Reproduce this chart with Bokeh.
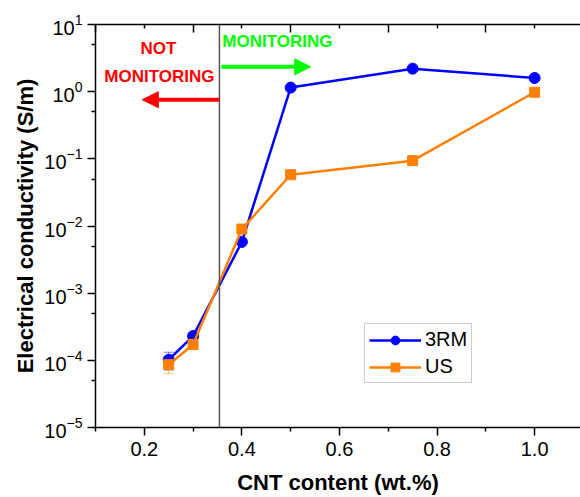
from bokeh.plotting import figure
from bokeh.models import (Range1d, FixedTicker, LinearAxis, Span, Arrow, NormalHead,
                          Label, Legend, LegendItem, ColumnDataSource, Whisker,
                          NumeralTickFormatter)
from bokeh.embed import file_html
from bokeh.resources import INLINE

# ---- data ----
cnt = [0.25, 0.3, 0.4, 0.5, 0.75, 1.0]
sigma_3rm = [1.02e-4, 2.3e-4, 5.8e-3, 1.15, 2.2, 1.6]
sigma_us = [8.6e-5, 1.72e-4, 9.0e-3, 0.058, 0.094, 0.98]
err_3rm = [3.0e-5, 0, 0, 0, 0, 0]
err_us = [2.2e-5, 0, 0, 0, 0, 0]
threshold = 0.354
x_ticks = [0.2, 0.4, 0.6, 0.8, 1.0]
x_minor = [0.1, 0.3, 0.5, 0.7, 0.9]
y_ticks = [1e-5, 1e-4, 1e-3, 1e-2, 1e-1, 1e0, 1e1]
y_minor = [5e-5, 5e-4, 5e-3, 5e-2, 5e-1, 5e0]
series_names = ["3RM", "US"]
x_title = "CNT content (wt.%)"
y_title = "Electrical conductivity (S/m)"

FONT = "Liberation Sans"
BLUE = "#0000ff"
ORANGE = "#ff8000"

p = figure(width=580, height=497, output_backend="svg", toolbar_location=None,
           y_axis_type="log", x_range=Range1d(0.1, 1.094), y_range=Range1d(1e-5, 10),
           min_border_left=95, min_border_right=0, min_border_top=24, min_border_bottom=70)
p.outline_line_color = None
p.xgrid.visible = False
p.ygrid.visible = False
p.background_fill_color = "white"
p.border_fill_color = "white"

def style_axis(ax):
    ax.major_tick_out = 8
    ax.major_tick_in = 0
    ax.minor_tick_out = 4
    ax.minor_tick_in = 0
    ax.axis_line_width = 1.5
    ax.axis_line_color = "black"
    ax.major_tick_line_width = 1.5
    ax.minor_tick_line_width = 1.5
    ax.major_tick_line_color = "black"
    ax.minor_tick_line_color = "black"
    ax.major_label_text_font = FONT
    ax.major_label_text_color = "black"
    ax.axis_label_text_font = FONT
    ax.axis_label_text_color = "black"
    ax.axis_label_text_font_style = "bold"
    ax.axis_label_text_font_size = "22px"

# bottom axis
xa = p.xaxis[0]
style_axis(xa)
xa.ticker = FixedTicker(ticks=x_ticks, minor_ticks=x_minor)
xa.formatter = NumeralTickFormatter(format="0.0")
xa.major_label_text_font_size = "20px"
xa.major_label_text_line_height = 1.0
xa.major_label_standoff = 6
xa.axis_label = x_title
xa.axis_label_text_line_height = 1.0
xa.axis_label_standoff = 11

# left axis
ya = p.yaxis[0]
style_axis(ya)
ya.ticker = FixedTicker(ticks=y_ticks, minor_ticks=y_minor)
ya.major_label_text_font_size = "20px"
ya.major_label_standoff = 5
ya.axis_label = y_title
ya.axis_label_standoff = 3

# top axis (ticks only, inward)
ta = LinearAxis(ticker=FixedTicker(ticks=x_minor, minor_ticks=x_ticks),
                major_label_overrides={t: "" for t in x_minor},
                major_label_standoff=0)
style_axis(ta)
ta.major_tick_in = 8
ta.major_tick_out = 0
ta.minor_tick_in = 4
ta.minor_tick_out = 0
p.add_layout(ta, "above")

# threshold line
p.add_layout(Span(location=threshold, dimension="height", line_color="#555555", line_width=1.5))

# error bars
src_3rm = ColumnDataSource(dict(x=cnt, y=sigma_3rm,
                                lo=[v - e for v, e in zip(sigma_3rm, err_3rm)],
                                hi=[v + e for v, e in zip(sigma_3rm, err_3rm)]))
src_us = ColumnDataSource(dict(x=cnt, y=sigma_us,
                               lo=[v - e for v, e in zip(sigma_us, err_us)],
                               hi=[v + e for v, e in zip(sigma_us, err_us)]))
for src, col in [(src_3rm, BLUE), (src_us, ORANGE)]:
    w = Whisker(base="x", lower="lo", upper="hi", source=src, line_color=col,
                line_alpha=0.5, line_width=1)
    w.upper_head.size = 10
    w.lower_head.size = 10
    w.upper_head.line_color = col
    w.lower_head.line_color = col
    w.upper_head.line_alpha = 0.5
    w.lower_head.line_alpha = 0.5
    p.add_layout(w)

# series
l1 = p.line("x", "y", source=src_3rm, line_color=BLUE, line_width=2.5)
m1 = p.scatter("x", "y", source=src_3rm, marker="circle", size=11, fill_color=BLUE, line_color=BLUE)
l2 = p.line("x", "y", source=src_us, line_color=ORANGE, line_width=2.5)
m2 = p.scatter("x", "y", source=src_us, marker="square", size=10, fill_color=ORANGE, line_color=ORANGE)

legend = Legend(items=[LegendItem(label=series_names[0], renderers=[l1, m1]),
                       LegendItem(label=series_names[1], renderers=[l2, m2])],
                location=(269, 44), glyph_width=52, glyph_height=22,
                label_text_font=FONT, label_text_font_size="20px", label_text_color="black",
                border_line_color="#999999", border_line_width=1,
                padding=4, spacing=4, margin=0, label_standoff=4,
                background_fill_alpha=1)
p.add_layout(legend)

# annotations
p.add_layout(Arrow(end=NormalHead(size=16, fill_color="#ff0000", line_color="#ff0000"),
                   x_start=threshold, y_start=0.76, x_end=0.196, y_end=0.76,
                   line_color="#ff0000", line_width=4))
p.add_layout(Arrow(end=NormalHead(size=16, fill_color="#00ff00", line_color="#00ff00"),
                   x_start=0.358, y_start=2.34, x_end=0.541, y_end=2.34,
                   line_color="#00ff00", line_width=4))
p.add_layout(Label(x=0.229, y=4.34, text="NOT", text_color="#ff0000", text_font=FONT,
                   text_font_size="17px", text_font_style="bold",
                   text_align="center", text_baseline="middle"))
p.add_layout(Label(x=0.231, y=1.66, text="MONITORING", text_color="#ff0000", text_font=FONT,
                   text_font_size="17px", text_font_style="bold",
                   text_align="center", text_baseline="middle"))
p.add_layout(Label(x=0.360, y=5.52, text="MONITORING", text_color="#00ff00", text_font=FONT,
                   text_font_size="17px", text_font_style="bold",
                   text_align="left", text_baseline="middle"))

open("out.html", "w").write(file_html(p, INLINE))
